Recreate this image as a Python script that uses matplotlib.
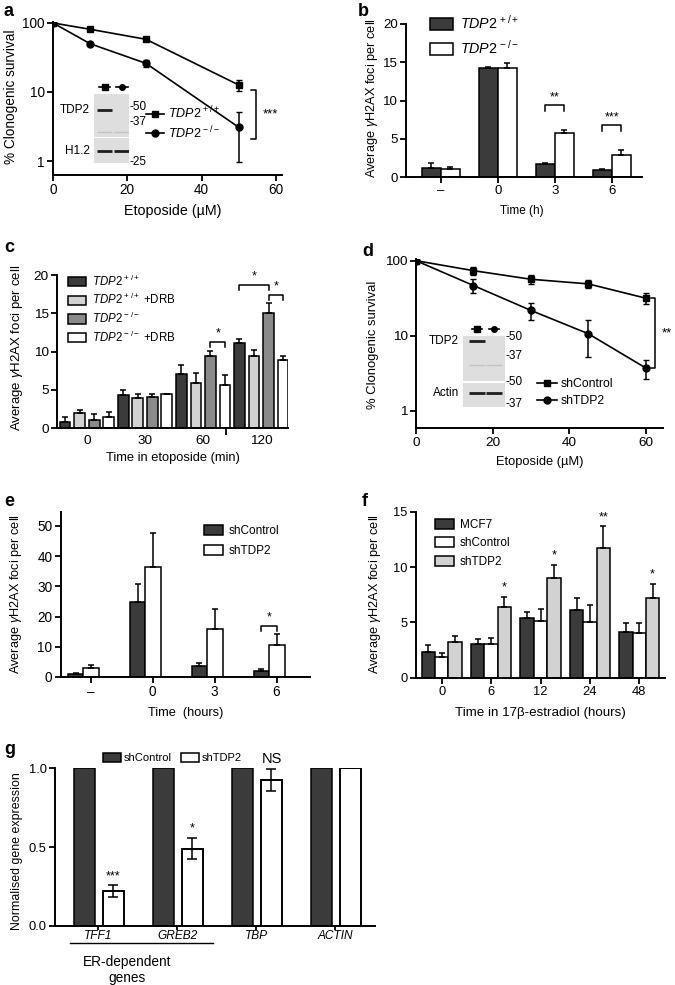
import numpy as np
import matplotlib
matplotlib.use('Agg')
import matplotlib.pyplot as plt
from matplotlib.lines import Line2D
from matplotlib.patches import Patch
from matplotlib.ticker import NullLocator

plt.rcParams['font.family'] = ['Liberation Sans', 'DejaVu Sans']
plt.rcParams['mathtext.fontset'] = 'custom'
plt.rcParams['mathtext.rm'] = 'Liberation Sans'
plt.rcParams['mathtext.it'] = 'Liberation Sans:italic'
plt.rcParams['mathtext.bf'] = 'Liberation Sans:bold'
plt.rcParams['axes.linewidth'] = 1.4

# ---- data ----
# a: clonogenic survival, TDP2 cells
dose_a = [0, 10, 25, 50]
wt_a = [100, 81, 58, 12.6]
wt_a_err = [0, 3, 3, 2.3]
ko_a = [100, 50, 26, 3.07]
ko_a_err = [0, 2, 2.6, 2.1]

# b: gH2AX foci after etoposide release
time_b = ['–', '0', '3', '6']
wt_b = [1.15, 14.2, 1.75, 0.9]
wt_b_err = [0.65, 0.15, 0.12, 0.12]
ko_b = [1.0, 14.3, 5.7, 2.9]
ko_b_err = [0.25, 0.55, 0.45, 0.65]
stars_b = ['', '', '**', '***']

# c: gH2AX foci +/- DRB
time_c = ['0', '30', '60', '120']
c_wt = [0.86, 4.35, 7.1, 11.1]
c_wt_err = [0.55, 0.6, 1.1, 0.6]
c_wt_drb = [2.0, 3.9, 5.85, 9.45]
c_wt_drb_err = [0.4, 0.6, 1.35, 0.75]
c_ko = [1.08, 4.1, 9.4, 15.1]
c_ko_err = [0.85, 0.35, 0.7, 1.2]
c_ko_drb = [1.43, 4.45, 5.65, 8.9]
c_ko_drb_err = [0.65, 0.05, 1.25, 0.55]
# (group, bar i, bar j, bracket height, label)
brackets_c = [(2, 2, 3, 11.3, '*'), (3, 0, 2, 18.7, '*'), (3, 2, 3, 17.4, '*')]

# d: clonogenic survival, shRNA
dose_d = [0, 15, 30, 45, 60]
ctrl_d = [100, 73.6, 56.5, 49, 31.6]
ctrl_d_err = [0, 9.5, 7, 6, 5]
sh_d = [100, 46.6, 21.7, 10.6, 3.7]
sh_d_err = [0, 9.5, 5.7, 5.4, 1.05]

# e: gH2AX foci, shRNA
time_e = ['–', '0', '3', '6']
ctrl_e = [1.0, 24.8, 3.6, 1.9]
ctrl_e_err = [0.3, 6.1, 0.9, 0.6]
sh_e = [2.9, 36.4, 15.9, 10.6]
sh_e_err = [1.0, 11.1, 6.7, 3.5]

# f: gH2AX foci in 17b-estradiol
time_f = ['0', '6', '12', '24', '48']
f_mcf7 = [2.35, 3.04, 5.36, 6.11, 4.1]
f_mcf7_err = [0.6, 0.46, 0.57, 1.1, 0.87]
f_ctrl = [1.87, 3.04, 5.15, 5.0, 4.0]
f_ctrl_err = [0.39, 0.56, 1.02, 1.57, 0.97]
f_sh = [3.25, 6.36, 8.98, 11.69, 7.23]
f_sh_err = [0.52, 0.94, 1.22, 1.98, 1.27]
stars_f = ['', '*', '*', '**', '*']

# g: gene expression
genes = ['TFF1', 'GREB2', 'TBP', 'ACTIN']
g_ctrl = [1.0, 1.0, 1.0, 1.0]
g_sh = [0.22, 0.49, 0.925, 1.0]
g_sh_err = [0.038, 0.068, 0.068, 0]
stars_g = ['***', '*', 'NS', '']

DARK = '#3b3b3b'
MID = '#8a8a8a'
LIGHT = '#d2d2d2'

W, H = 675, 985
fig = plt.figure(figsize=(6.75, 9.85), dpi=100)


def fx(px):
    return px / W


def fy(py):
    return 1 - py / H


def add_ax(x0, x1, y0, y1, fs=9.5):
    ax = fig.add_axes([fx(x0), fy(y1), (x1 - x0) / W, (y1 - y0) / H])
    ax.spines[['top', 'right']].set_visible(False)
    ax.tick_params(direction='out', length=4, width=1.3, labelsize=fs, pad=2)
    ax.patch.set_alpha(0)
    return ax


def bars(ax, x, vals, errs, color, width):
    ax.bar(x, vals, width, color=color, edgecolor='k', linewidth=1.1, zorder=2)
    ax.errorbar(x, vals, yerr=[np.zeros(len(vals)), errs], fmt='none', ecolor='k',
                elinewidth=1.1, capsize=2.3, capthick=1.1, zorder=3)


def ylab(x, y, s, fs=9.2):
    fig.text(fx(x), fy(y), s, rotation=90, ha='center', va='center', fontsize=fs)


def xlab(x, y, s, fs=9.2):
    fig.text(fx(x), fy(y), s, ha='center', va='center', fontsize=fs)


def bar_legend(ax, colors, labels, x, y, fs=8.5, spacing=0.5):
    handles = [Patch(facecolor=c, edgecolor='k', linewidth=1.1) for c in colors]
    ax.legend(handles, labels, loc='center left', bbox_to_anchor=(fx(x), fy(y)),
              bbox_transform=fig.transFigure, frameon=False, fontsize=fs,
              handlelength=1.6, handleheight=0.9, handletextpad=0.5,
              labelspacing=spacing, borderpad=0, borderaxespad=0)


def blot(x0, x1, y0, y1, bands, ypos, xlim):
    b = fig.add_axes([fx(x0), fy(y1), (x1 - x0) / W, (y1 - y0) / H])
    b.set_facecolor('#dedede')
    b.set_xlim(*xlim)
    b.set_ylim(0, 1)
    b.set_xticks([])
    b.set_yticks([])
    for s in b.spines.values():
        s.set_visible(False)
    for lane, v in enumerate(bands):
        if v > 0:
            col = '#1e1e1e' if v >= 1 else '#c4c4c4'
            b.hlines(ypos, lane - 0.45, lane + 0.45, color=col, lw=2.0 if v >= 1 else 1.0)
    return b


def lane_marks(b, y):
    for lane, m in zip([0, 1], ['s', 'o']):
        b.plot([lane - 0.32, lane + 0.32], [y, y], '-', color='k', lw=1.2, clip_on=False)
        b.plot([lane], [y], m, color='k', ms=4, clip_on=False)


tdp2_wt = r'$\mathit{TDP2}^{\,+/+}$'
tdp2_ko = r'$\mathit{TDP2}^{\,-/-}$'

# ---------------- a ----------------
ax = add_ax(53, 282, 21.5, 175, fs=9.8)
ax.set_yscale('log')
la1, = ax.plot(dose_a, wt_a, '-s', color='k', ms=5, lw=1.2, zorder=3)
ax.errorbar(dose_a, wt_a, yerr=wt_a_err, fmt='none', ecolor='k', capsize=2.5, lw=1.1)
la2, = ax.plot(dose_a, ko_a, '-o', color='k', ms=5, lw=1.2, zorder=3)
ax.errorbar(dose_a, ko_a, yerr=ko_a_err, fmt='none', ecolor='k', capsize=2.5, lw=1.1)
ax.set_xlim(0, 61.6)
ax.set_ylim(0.627, 105)
ax.set_xticks([0, 20, 40, 60])
ax.set_yticks([1, 10, 100], ['1', '10', '100'])
ax.yaxis.set_minor_locator(NullLocator())
bx = 54.5
ax.plot([bx - 1.2, bx, bx, bx - 1.2], [wt_a[-1] * 0.85, wt_a[-1] * 0.85, ko_a[-1] * 0.68, ko_a[-1] * 0.68],
        color='k', lw=1.1, clip_on=False)
ax.text(bx + 2, 4.7, '***', ha='left', va='center', fontsize=9.5)
ax.legend([la1, la2], [tdp2_wt, tdp2_ko], loc='center left', bbox_to_anchor=(fx(146), fy(123)),
          bbox_transform=fig.transFigure, frameon=False, fontsize=9, handlelength=1.4,
          handletextpad=0.35, labelspacing=0.2, borderpad=0, borderaxespad=0)
ylab(11, 97, '% Clonogenic survival', fs=9.8)
xlab(173, 211, 'Etoposide (µM)', fs=10.3)
bt = blot(94, 129, 94, 137, [1, 0], 0.63, (-0.6, 1.4))
blot(94, 129, 94, 137, [0.5, 0.5], 0.12, (-0.6, 1.4)).patch.set_alpha(0)
blot(94, 129, 138, 163, [1, 1], 0.48, (-0.6, 1.4))
lane_marks(bt, 1.16)
for s, x, y, ha in [('TDP2', 90, 110, 'right'), ('H1.2', 90, 151, 'right'),
                    ('-50', 130, 107, 'left'), ('-37', 130, 122, 'left'), ('-25', 130, 162, 'left')]:
    fig.text(fx(x), fy(y), s, ha=ha, va='center', fontsize=8.5)

# ---------------- b ----------------
ax = add_ax(406, 642, 24, 177, fs=9.5)
xb = np.arange(len(time_b))
wb = 0.333
bars(ax, xb - wb / 2, wt_b, wt_b_err, DARK, wb)
bars(ax, xb + wb / 2, ko_b, ko_b_err, 'white', wb)
ax.set_xlim(-0.614, 3.53)
ax.set_ylim(0, 20)
ax.set_yticks([0, 5, 10, 15, 20])
ax.set_xticks(xb, time_b)
for i, s in enumerate(stars_b):
    if s:
        top = max(wt_b[i] + wt_b_err[i], ko_b[i] + ko_b_err[i]) + 3.2
        ax.plot([i - wb / 2, i - wb / 2, i + wb / 2, i + wb / 2], [top - 0.7, top, top, top - 0.7],
                color='k', lw=1.1)
        ax.text(i, top + 0.3, s, ha='center', va='bottom', fontsize=9)
bar_legend(ax, [DARK, 'white'], [tdp2_wt, tdp2_ko], 430, 35.5, fs=10.3, spacing=0.5)
ylab(372, 98, r'Average $\gamma$H2AX foci per cell', fs=9.2)
xlab(522, 211, 'Time (h)', fs=8.5)

# ---------------- c ----------------
ax = add_ax(57, 288.3, 275, 428.3, fs=9.7)
xc = np.arange(len(time_c))
wc = 0.184
offs_c = [-0.375, -0.125, 0.125, 0.375]
for o, v, e, col in zip(offs_c, [c_wt, c_wt_drb, c_ko, c_ko_drb],
                        [c_wt_err, c_wt_drb_err, c_ko_err, c_ko_drb_err],
                        [DARK, LIGHT, MID, 'white']):
    bars(ax, xc + o, v, e, col, wc)
ax.set_xlim(-0.515, 3.465)
ax.set_ylim(0, 20)
ax.set_yticks([0, 5, 10, 15, 20])
ax.set_xticks(xc, time_c)
ax.tick_params(axis='x', length=0, pad=5)
ax.set_xticks([2.4], minor=True)
ax.tick_params(axis='x', which='minor', length=5, width=1.3)
for g, i, j, y, s in brackets_c:
    x1, x2 = g + offs_c[i], g + offs_c[j]
    ax.plot([x1, x1, x2, x2], [y - 0.7, y, y, y - 0.7], color='k', lw=1.1, clip_on=False)
    ax.text((x1 + x2) / 2, y + 0.3, s, ha='center', va='bottom', fontsize=9)
bar_legend(ax, [DARK, LIGHT, MID, 'white'],
           [tdp2_wt, tdp2_wt + ' +DRB', tdp2_ko, tdp2_ko + ' +DRB'], 68, 309, fs=8.3, spacing=0.3)
ylab(17, 348, r'Average $\gamma$H2AX foci per cell', fs=9.5)
xlab(173, 458, 'Time in etoposide (min)', fs=9.3)

# ---------------- d ----------------
ax = add_ax(416, 663, 259.4, 428.3, fs=9.7)
ax.set_yscale('log')
ld1, = ax.plot(dose_d, ctrl_d, '-s', color='k', ms=5, lw=1.2, zorder=3)
ax.errorbar(dose_d, ctrl_d, yerr=ctrl_d_err, fmt='none', ecolor='k', capsize=2.5, lw=1.1)
ld2, = ax.plot(dose_d, sh_d, '-o', color='k', ms=5, lw=1.2, zorder=3)
ax.errorbar(dose_d, sh_d, yerr=sh_d_err, fmt='none', ecolor='k', capsize=2.5, lw=1.1)
ax.set_xlim(0, 64.5)
ax.set_ylim(0.58, 104)
ax.set_xticks([0, 20, 40, 60])
ax.set_yticks([1, 10, 100], ['1', '10', '100'])
ax.yaxis.set_minor_locator(NullLocator())
bx = 62.4
ax.plot([bx - 1.0, bx, bx, bx - 1.0], [ctrl_d[-1], ctrl_d[-1], sh_d[-1], sh_d[-1]],
        color='k', lw=1.1, clip_on=False)
ax.text(bx + 1.9, 10.8, '**', ha='left', va='center', fontsize=9.5)
ax.legend([ld1, ld2], ['shControl', 'shTDP2'], loc='center left', bbox_to_anchor=(fx(537), fy(392.5)),
          bbox_transform=fig.transFigure, frameon=False, fontsize=8.8, handlelength=1.65,
          handletextpad=0.3, labelspacing=0.4, borderpad=0, borderaxespad=0)
ylab(373, 345, '% Clonogenic survival', fs=9.4)
xlab(540, 461.7, 'Etoposide (µM)', fs=9.3)
lx = (-0.82, 1.65)
bt = blot(463, 505, 336, 381, [1, 0], 0.9, lx)
blot(463, 505, 336, 381, [0.5, 0.5], 0.36, lx).patch.set_alpha(0)
blot(463, 505, 383, 407, [1, 1], 0.57, lx)
lane_marks(bt, 1.156)
for s, x, y, ha in [('TDP2', 459, 341, 'right'), ('Actin', 459, 393, 'right'),
                    ('-50', 506, 337, 'left'), ('-37', 506, 356, 'left'),
                    ('-50', 506, 382, 'left'), ('-37', 506, 404, 'left')]:
    fig.text(fx(x), fy(y), s, ha=ha, va='center', fontsize=8.5)

# ---------------- e ----------------
ax = add_ax(60.7, 310, 511.7, 677, fs=9.8)
xe = np.arange(len(time_e))
we = 0.25
bars(ax, xe - we / 2, ctrl_e, ctrl_e_err, DARK, we)
bars(ax, xe + we / 2, sh_e, sh_e_err, 'white', we)
ax.set_xlim(-0.365, 3.66)
ax.set_ylim(0, 54.7)
ax.set_yticks([0, 10, 20, 30, 40, 50])
ax.set_xticks(xe + 0.12, time_e)
top = sh_e[3] + sh_e_err[3] + 2.8
ax.plot([3 - we / 2, 3 - we / 2, 3 + we / 2, 3 + we / 2], [top - 1.6, top, top, top - 1.6], color='k', lw=1.1)
ax.text(3, top + 0.8, '*', ha='center', va='bottom', fontsize=9)
bar_legend(ax, [DARK, 'white'], ['shControl', 'shTDP2'], 204, 541, fs=8.5, spacing=0.65)
ylab(16, 594, r'Average $\gamma$H2AX foci per cell', fs=9.2)
xlab(186, 713, 'Time  (hours)', fs=9.2)

# ---------------- f ----------------
ax = add_ax(416, 665, 511.7, 677.7, fs=9.3)
xf = np.arange(len(time_f))
wf = 0.27
for o, v, e, col in zip([-wf, 0, wf], [f_mcf7, f_ctrl, f_sh], [f_mcf7_err, f_ctrl_err, f_sh_err],
                        [DARK, 'white', LIGHT]):
    bars(ax, xf + o, v, e, col, wf)
ax.set_xlim(-0.52, 4.52)
ax.set_ylim(0, 15)
ax.set_yticks([0, 5, 10, 15])
ax.set_xticks(xf, time_f)
for i, s in enumerate(stars_f):
    if s:
        ax.text(i + wf, f_sh[i] + f_sh_err[i] + 0.3, s, ha='center', va='bottom', fontsize=9)
bar_legend(ax, [DARK, 'white', LIGHT], ['MCF7', 'shControl', 'shTDP2'], 435, 543.3, fs=8.5, spacing=0.55)
ylab(375, 594, r'Average $\gamma$H2AX foci per cell', fs=9.2)
xlab(540, 713, 'Time in 17β-estradiol (hours)', fs=9.6)

# ---------------- g ----------------
ax = add_ax(55, 375, 768.3, 926, fs=9.3)
xg = np.arange(len(genes))
wg = 0.26
ax.bar(xg - 0.18, g_ctrl, wg, color=DARK, edgecolor='k', linewidth=1.1, zorder=2)
ax.bar(xg + 0.19, g_sh, wg, color='white', edgecolor='k', linewidth=1.4, zorder=2)
ax.errorbar(xg + 0.19, g_sh, yerr=g_sh_err, fmt='none', ecolor='k', elinewidth=1.1,
            capsize=3.5, capthick=1.1, zorder=3)
ax.set_xlim(-0.55, 3.5)
ax.set_ylim(0, 1.0)
ax.set_yticks([0, 0.5, 1.0], ['0.0', '0.5', '1.0'])
ax.set_xticks(xg, genes, style='italic')
ax.tick_params(axis='x', length=3, pad=0, labelsize=8.6)
for i, s in enumerate(stars_g):
    if s:
        ax.text(i + 0.19, g_sh[i] + g_sh_err[i] + 0.02, s, ha='center', va='bottom',
                fontsize=10.5 if s == 'NS' else 9, clip_on=False)
handles = [Patch(facecolor=DARK, edgecolor='k', linewidth=1.1), Patch(facecolor='white', edgecolor='k', linewidth=1.1)]
ax.legend(handles, ['shControl', 'shTDP2'], loc='center left', bbox_to_anchor=(fx(103), fy(758)),
          bbox_transform=fig.transFigure, frameon=False, fontsize=8, ncol=2, handlelength=1.6,
          handleheight=0.9, handletextpad=0.3, columnspacing=0.8, borderpad=0, borderaxespad=0)
ylab(17, 851, 'Normalised gene expression', fs=8.9)
fig.add_artist(Line2D([fx(70), fx(213)], [fy(943), fy(943)], color='k', lw=1.0))
fig.text(fx(127), fy(970), 'ER-dependent\ngenes', ha='center', va='center', fontsize=9.8, linespacing=1.2)

# panel letters
for s, x, y in [('a', 4, 12), ('b', 358, 12), ('c', 4, 248), ('d', 362, 252),
                ('e', 4, 502), ('f', 362, 502), ('g', 4, 750)]:
    fig.text(fx(x), fy(y), s, ha='left', va='center', fontsize=13, fontweight='bold')

fig.savefig('out.png', dpi=100)
